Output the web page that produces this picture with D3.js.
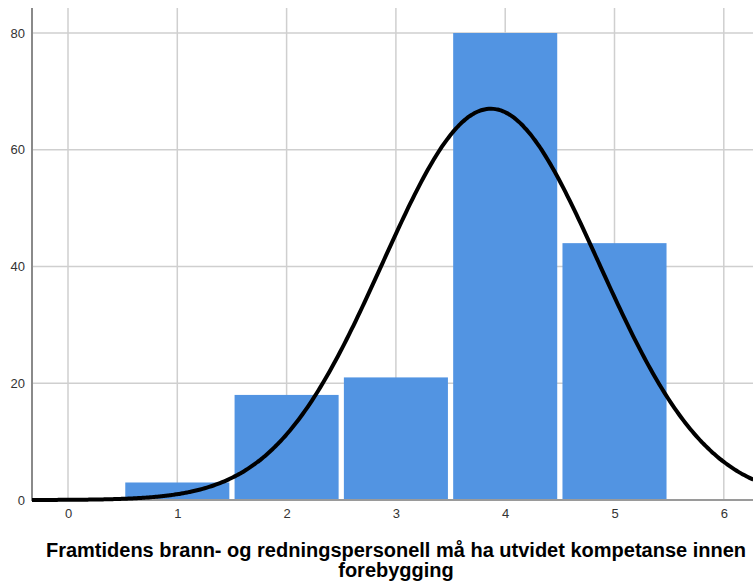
<!DOCTYPE html>
<html>
<head>
<meta charset="utf-8">
<script src="https://cdn.jsdelivr.net/npm/d3@7"></script>
<style>
  body { margin: 0; background: #fff; }
  svg { display: block; }
  .tick text { font-family: "Liberation Sans", Arial, sans-serif; font-size: 13px; fill: #333; }
  .title { font-family: "Liberation Sans", Arial, sans-serif; font-weight: bold; font-size: 20px; fill: #000; }
</style>
</head>
<body>
<div class="app"></div>
<script>
'use strict'

// answer categories and counts
var categories = [1, 2, 3, 4, 5];
var counts = [3, 18, 21, 80, 44];

var xTicks = [0, 1, 2, 3, 4, 5, 6];
var yTicks = [0, 20, 40, 60, 80];
var titleLines = ["Framtidens brann- og redningspersonell må ha utvidet kompetanse innen", "forebygging"];

var W = 753, H = 584;
var plotLeft = 32, plotRight = 753, plotTop = 8, plotBottom = 500;

var x = d3.scaleLinear().domain([0, 6]).range([68, 723.8]);
var y = d3.scaleLinear().domain([0, 80]).range([plotBottom, 33]);

var svg = d3.select(".app").append("svg")
  .attr("width", W)
  .attr("height", H);

// grid
var grid = svg.append("g").attr("class", "grid");
grid.selectAll(".vgrid").data(xTicks).enter().append("line")
  .attr("x1", d => x(d)).attr("x2", d => x(d))
  .attr("y1", plotTop).attr("y2", plotBottom)
  .attr("stroke", "#cfcfcf").attr("stroke-width", 1.5);
grid.selectAll(".hgrid").data(yTicks.filter(d => d > 0)).enter().append("line")
  .attr("x1", plotLeft).attr("x2", plotRight)
  .attr("y1", d => y(d)).attr("y2", d => y(d))
  .attr("stroke", "#cfcfcf").attr("stroke-width", 1.5);

// bars
var halfW = 0.476;
svg.append("g").selectAll("rect").data(categories).enter().append("rect")
  .attr("x", d => x(d - halfW))
  .attr("width", d => x(d + halfW) - x(d - halfW))
  .attr("y", (d, i) => y(counts[i]))
  .attr("height", (d, i) => y(0) - y(counts[i]))
  .attr("fill", "#5294e2");

// axes
svg.append("line")
  .attr("x1", plotLeft).attr("x2", plotRight)
  .attr("y1", plotBottom).attr("y2", plotBottom)
  .attr("stroke", "#9a9a9a").attr("stroke-width", 2);
svg.append("line")
  .attr("x1", plotLeft).attr("x2", plotLeft)
  .attr("y1", plotTop).attr("y2", plotBottom + 1)
  .attr("stroke", "#8a8a8a").attr("stroke-width", 2);

var yAxis = d3.axisLeft(y).tickValues(yTicks).tickSize(0).tickPadding(7).tickFormat(d3.format("d"));
svg.append("g").attr("transform", "translate(" + plotLeft + ",0)").call(yAxis)
  .call(g => g.select(".domain").remove());

var xAxis = d3.axisBottom(x).tickValues(xTicks).tickSize(0).tickPadding(9).tickFormat(d3.format("d"));
svg.append("g").attr("transform", "translate(0," + plotBottom + ")").call(xAxis)
  .call(g => g.select(".domain").remove());

// normal curve fitted to the counts
var values = [];
categories.forEach((c, i) => { for (var k = 0; k < counts[i]; k++) values.push(c); });
var n = values.length;
var mean = d3.mean(values);
var sd = d3.deviation(values);
var normal = v => n / (sd * Math.sqrt(2 * Math.PI)) * Math.exp(-0.5 * Math.pow((v - mean) / sd, 2));

var xs = d3.range(x.invert(plotLeft), x.invert(plotRight) + 0.01, 0.02);
var line = d3.line()
  .x(d => x(d))
  .y(d => y(normal(d)))
  .curve(d3.curveBasis);

svg.append("path")
  .attr("d", line(xs))
  .attr("fill", "none")
  .attr("stroke", "#000")
  .attr("stroke-width", 4);

// title
svg.append("g").selectAll("text").data(titleLines).enter().append("text")
  .attr("class", "title")
  .attr("x", 396)
  .attr("y", (d, i) => 557 + i * 20)
  .attr("text-anchor", "middle")
  .text(d => d);
</script>
</body>
</html>
